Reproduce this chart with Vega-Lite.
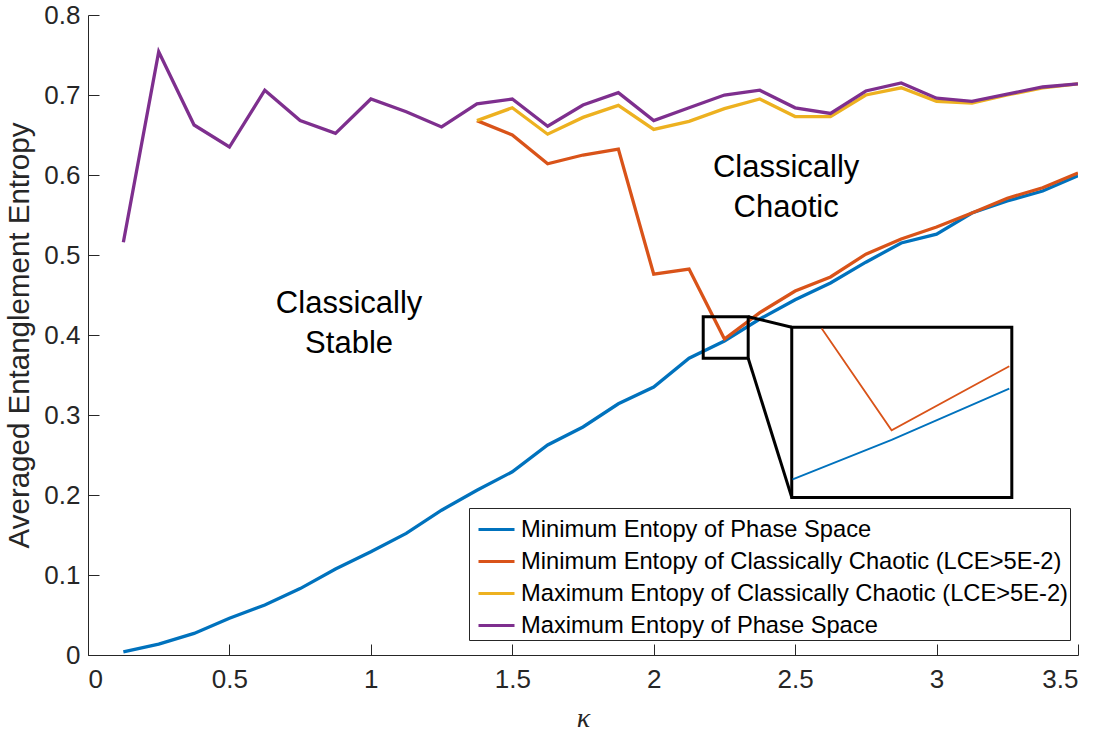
{
  "$schema": "https://vega.github.io/schema/vega-lite/v6.json",
  "width": 990,
  "height": 640,
  "autosize": {"type": "none"},
  "padding": {"left": 88, "top": 15, "right": 30, "bottom": 79},
  "background": "white",
  "config": {
    "font": "Liberation Sans",
    "view": {"stroke": null},
    "axis": {
      "grid": false,
      "domainColor": "#262626",
      "domainWidth": 1,
      "tickColor": "#262626",
      "tickWidth": 1,
      "tickSize": -11,
      "labelColor": "#262626",
      "labelFontSize": 26,
      "labelFont": "Liberation Sans",
      "titleColor": "#262626",
      "titleFont": "Liberation Sans",
      "titleFontWeight": "normal"
    }
  },
  "datasets": {
    "main": [
      {"k": 0.125, "s": "Minimum Entopy of Phase Space", "v": 0.004},
      {"k": 0.25, "s": "Minimum Entopy of Phase Space", "v": 0.0135},
      {"k": 0.375, "s": "Minimum Entopy of Phase Space", "v": 0.027},
      {"k": 0.5, "s": "Minimum Entopy of Phase Space", "v": 0.046},
      {"k": 0.625, "s": "Minimum Entopy of Phase Space", "v": 0.0625},
      {"k": 0.75, "s": "Minimum Entopy of Phase Space", "v": 0.083},
      {"k": 0.875, "s": "Minimum Entopy of Phase Space", "v": 0.1075},
      {"k": 1.0, "s": "Minimum Entopy of Phase Space", "v": 0.129},
      {"k": 1.125, "s": "Minimum Entopy of Phase Space", "v": 0.152},
      {"k": 1.25, "s": "Minimum Entopy of Phase Space", "v": 0.181},
      {"k": 1.375, "s": "Minimum Entopy of Phase Space", "v": 0.206},
      {"k": 1.5, "s": "Minimum Entopy of Phase Space", "v": 0.229},
      {"k": 1.625, "s": "Minimum Entopy of Phase Space", "v": 0.2625},
      {"k": 1.75, "s": "Minimum Entopy of Phase Space", "v": 0.285},
      {"k": 1.875, "s": "Minimum Entopy of Phase Space", "v": 0.314},
      {"k": 2.0, "s": "Minimum Entopy of Phase Space", "v": 0.335},
      {"k": 2.125, "s": "Minimum Entopy of Phase Space", "v": 0.371},
      {"k": 2.25, "s": "Minimum Entopy of Phase Space", "v": 0.3925},
      {"k": 2.375, "s": "Minimum Entopy of Phase Space", "v": 0.42},
      {"k": 2.5, "s": "Minimum Entopy of Phase Space", "v": 0.444},
      {"k": 2.625, "s": "Minimum Entopy of Phase Space", "v": 0.465},
      {"k": 2.75, "s": "Minimum Entopy of Phase Space", "v": 0.491},
      {"k": 2.875, "s": "Minimum Entopy of Phase Space", "v": 0.515},
      {"k": 3.0, "s": "Minimum Entopy of Phase Space", "v": 0.526},
      {"k": 3.125, "s": "Minimum Entopy of Phase Space", "v": 0.5525},
      {"k": 3.25, "s": "Minimum Entopy of Phase Space", "v": 0.5675},
      {"k": 3.375, "s": "Minimum Entopy of Phase Space", "v": 0.58},
      {"k": 3.5, "s": "Minimum Entopy of Phase Space", "v": 0.599},
      {"k": 1.375, "s": "Minimum Entopy of Classically Chaotic (LCE>5E-2)", "v": 0.668},
      {"k": 1.5, "s": "Minimum Entopy of Classically Chaotic (LCE>5E-2)", "v": 0.65},
      {"k": 1.625, "s": "Minimum Entopy of Classically Chaotic (LCE>5E-2)", "v": 0.614},
      {"k": 1.75, "s": "Minimum Entopy of Classically Chaotic (LCE>5E-2)", "v": 0.625},
      {"k": 1.875, "s": "Minimum Entopy of Classically Chaotic (LCE>5E-2)", "v": 0.6325},
      {"k": 2.0, "s": "Minimum Entopy of Classically Chaotic (LCE>5E-2)", "v": 0.476},
      {"k": 2.125, "s": "Minimum Entopy of Classically Chaotic (LCE>5E-2)", "v": 0.4825},
      {"k": 2.25, "s": "Minimum Entopy of Classically Chaotic (LCE>5E-2)", "v": 0.395},
      {"k": 2.375, "s": "Minimum Entopy of Classically Chaotic (LCE>5E-2)", "v": 0.428},
      {"k": 2.5, "s": "Minimum Entopy of Classically Chaotic (LCE>5E-2)", "v": 0.455},
      {"k": 2.625, "s": "Minimum Entopy of Classically Chaotic (LCE>5E-2)", "v": 0.4725},
      {"k": 2.75, "s": "Minimum Entopy of Classically Chaotic (LCE>5E-2)", "v": 0.501},
      {"k": 2.875, "s": "Minimum Entopy of Classically Chaotic (LCE>5E-2)", "v": 0.52},
      {"k": 3.0, "s": "Minimum Entopy of Classically Chaotic (LCE>5E-2)", "v": 0.535},
      {"k": 3.125, "s": "Minimum Entopy of Classically Chaotic (LCE>5E-2)", "v": 0.5525},
      {"k": 3.25, "s": "Minimum Entopy of Classically Chaotic (LCE>5E-2)", "v": 0.571},
      {"k": 3.375, "s": "Minimum Entopy of Classically Chaotic (LCE>5E-2)", "v": 0.584},
      {"k": 3.5, "s": "Minimum Entopy of Classically Chaotic (LCE>5E-2)", "v": 0.6025},
      {"k": 1.375, "s": "Maximum Entopy of Classically Chaotic (LCE>5E-2)", "v": 0.668},
      {"k": 1.5, "s": "Maximum Entopy of Classically Chaotic (LCE>5E-2)", "v": 0.684},
      {"k": 1.625, "s": "Maximum Entopy of Classically Chaotic (LCE>5E-2)", "v": 0.651},
      {"k": 1.75, "s": "Maximum Entopy of Classically Chaotic (LCE>5E-2)", "v": 0.672},
      {"k": 1.875, "s": "Maximum Entopy of Classically Chaotic (LCE>5E-2)", "v": 0.687},
      {"k": 2.0, "s": "Maximum Entopy of Classically Chaotic (LCE>5E-2)", "v": 0.657},
      {"k": 2.125, "s": "Maximum Entopy of Classically Chaotic (LCE>5E-2)", "v": 0.667},
      {"k": 2.25, "s": "Maximum Entopy of Classically Chaotic (LCE>5E-2)", "v": 0.683},
      {"k": 2.375, "s": "Maximum Entopy of Classically Chaotic (LCE>5E-2)", "v": 0.695},
      {"k": 2.5, "s": "Maximum Entopy of Classically Chaotic (LCE>5E-2)", "v": 0.673},
      {"k": 2.625, "s": "Maximum Entopy of Classically Chaotic (LCE>5E-2)", "v": 0.673},
      {"k": 2.75, "s": "Maximum Entopy of Classically Chaotic (LCE>5E-2)", "v": 0.7},
      {"k": 2.875, "s": "Maximum Entopy of Classically Chaotic (LCE>5E-2)", "v": 0.709},
      {"k": 3.0, "s": "Maximum Entopy of Classically Chaotic (LCE>5E-2)", "v": 0.692},
      {"k": 3.125, "s": "Maximum Entopy of Classically Chaotic (LCE>5E-2)", "v": 0.69},
      {"k": 3.25, "s": "Maximum Entopy of Classically Chaotic (LCE>5E-2)", "v": 0.7},
      {"k": 3.375, "s": "Maximum Entopy of Classically Chaotic (LCE>5E-2)", "v": 0.709},
      {"k": 3.5, "s": "Maximum Entopy of Classically Chaotic (LCE>5E-2)", "v": 0.714},
      {"k": 0.125, "s": "Maximum Entopy of Phase Space", "v": 0.516},
      {"k": 0.25, "s": "Maximum Entopy of Phase Space", "v": 0.754},
      {"k": 0.375, "s": "Maximum Entopy of Phase Space", "v": 0.6625},
      {"k": 0.5, "s": "Maximum Entopy of Phase Space", "v": 0.635},
      {"k": 0.625, "s": "Maximum Entopy of Phase Space", "v": 0.706},
      {"k": 0.75, "s": "Maximum Entopy of Phase Space", "v": 0.668},
      {"k": 0.875, "s": "Maximum Entopy of Phase Space", "v": 0.652},
      {"k": 1.0, "s": "Maximum Entopy of Phase Space", "v": 0.695},
      {"k": 1.125, "s": "Maximum Entopy of Phase Space", "v": 0.679},
      {"k": 1.25, "s": "Maximum Entopy of Phase Space", "v": 0.66},
      {"k": 1.375, "s": "Maximum Entopy of Phase Space", "v": 0.689},
      {"k": 1.5, "s": "Maximum Entopy of Phase Space", "v": 0.695},
      {"k": 1.625, "s": "Maximum Entopy of Phase Space", "v": 0.661},
      {"k": 1.75, "s": "Maximum Entopy of Phase Space", "v": 0.6875},
      {"k": 1.875, "s": "Maximum Entopy of Phase Space", "v": 0.703},
      {"k": 2.0, "s": "Maximum Entopy of Phase Space", "v": 0.668},
      {"k": 2.125, "s": "Maximum Entopy of Phase Space", "v": 0.684},
      {"k": 2.25, "s": "Maximum Entopy of Phase Space", "v": 0.7},
      {"k": 2.375, "s": "Maximum Entopy of Phase Space", "v": 0.706},
      {"k": 2.5, "s": "Maximum Entopy of Phase Space", "v": 0.684},
      {"k": 2.625, "s": "Maximum Entopy of Phase Space", "v": 0.677},
      {"k": 2.75, "s": "Maximum Entopy of Phase Space", "v": 0.705},
      {"k": 2.875, "s": "Maximum Entopy of Phase Space", "v": 0.715},
      {"k": 3.0, "s": "Maximum Entopy of Phase Space", "v": 0.696},
      {"k": 3.125, "s": "Maximum Entopy of Phase Space", "v": 0.692},
      {"k": 3.25, "s": "Maximum Entopy of Phase Space", "v": 0.701},
      {"k": 3.375, "s": "Maximum Entopy of Phase Space", "v": 0.71},
      {"k": 3.5, "s": "Maximum Entopy of Phase Space", "v": 0.714}
    ],
    "inset": [
      {"k": 2.491, "s": "Minimum Entopy of Phase Space", "v": 0.2196},
      {"k": 2.841, "s": "Minimum Entopy of Phase Space", "v": 0.269},
      {"k": 3.257, "s": "Minimum Entopy of Phase Space", "v": 0.333},
      {"k": 2.594, "s": "Minimum Entopy of Classically Chaotic (LCE>5E-2)", "v": 0.408},
      {"k": 2.841, "s": "Minimum Entopy of Classically Chaotic (LCE>5E-2)", "v": 0.281},
      {"k": 3.257, "s": "Minimum Entopy of Classically Chaotic (LCE>5E-2)", "v": 0.361}
    ],
    "boxes": [
      {"x1": 2.175, "x2": 2.334, "y1": 0.4229, "y2": 0.3709, "f": "none"},
      {"x1": 2.488, "x2": 3.266, "y1": 0.4096, "y2": 0.197, "f": "white"}
    ],
    "connectors": [
      {"x1": 2.334, "y1": 0.4229, "x2": 2.488, "y2": 0.4096},
      {"x1": 2.334, "y1": 0.3709, "x2": 2.488, "y2": 0.197}
    ],
    "labels": [
      {"k": 0.923, "v": 0.4275, "t": "Classically\nStable"},
      {"k": 2.468, "v": 0.5975, "t": "Classically\nChaotic"}
    ]
  },
  "layer": [
    {
      "data": {"name": "main"},
      "mark": {"type": "line", "strokeWidth": 3.3, "strokeJoin": "miter", "clip": true},
      "encoding": {
        "x": {
          "field": "k", "type": "quantitative",
          "scale": {"domain": [0, 3.5], "nice": false, "zero": false},
          "axis": {
            "values": [0, 0.5, 1, 1.5, 2, 2.5, 3, 3.5],
            "format": "~g",
            "labelPadding": 22,
            "title": "κ",
            "titleFont": "Liberation Serif",
            "titleFontStyle": "italic",
            "titleFontSize": 28,
            "titlePadding": 12
          }
        },
        "y": {
          "field": "v", "type": "quantitative",
          "scale": {"domain": [0, 0.8], "nice": false},
          "axis": {
            "values": [0, 0.1, 0.2, 0.3, 0.4, 0.5, 0.6, 0.7, 0.8],
            "format": "~g",
            "labelPadding": 19,
            "title": "Averaged Entanglement Entropy",
            "titleFontSize": 29.5,
            "titlePadding": 9
          }
        },
        "color": {
          "field": "s", "type": "nominal",
          "scale": {
            "domain": [
              "Minimum Entopy of Phase Space",
              "Minimum Entopy of Classically Chaotic (LCE>5E-2)",
              "Maximum Entopy of Classically Chaotic (LCE>5E-2)",
              "Maximum Entopy of Phase Space"
            ],
            "range": ["#0072BD", "#D95319", "#EDB120", "#7E2F8E"]
          },
          "legend": {
            "orient": "none",
            "legendX": 381,
            "legendY": 493,
            "title": null,
            "symbolType": "stroke",
            "symbolStrokeWidth": 3,
            "symbolSize": 1296,
            "symbolOffset": 6,
            "labelFontSize": 23.7,
            "labelFont": "Liberation Sans",
            "labelColor": "black",
            "labelLimit": 800,
            "labelOffset": 5,
            "strokeColor": "#262626",
            "fillColor": "white",
            "padding": 2,
            "rowPadding": 0
          }
        }
      }
    },
    {
      "data": {"name": "connectors"},
      "mark": {"type": "rule", "color": "black", "strokeWidth": 3},
      "encoding": {
        "x": {"field": "x1", "type": "quantitative"},
        "y": {"field": "y1", "type": "quantitative"},
        "x2": {"field": "x2"},
        "y2": {"field": "y2"}
      }
    },
    {
      "data": {"name": "boxes"},
      "mark": {"type": "rect", "stroke": "black", "strokeWidth": 3},
      "encoding": {
        "x": {"field": "x1", "type": "quantitative"},
        "x2": {"field": "x2"},
        "y": {"field": "y1", "type": "quantitative"},
        "y2": {"field": "y2"},
        "fill": {"field": "f", "type": "nominal", "scale": {"domain": ["none", "white"], "range": ["transparent", "white"]}, "legend": null}
      }
    },
    {
      "data": {"name": "inset"},
      "mark": {"type": "line", "strokeWidth": 1.8},
      "encoding": {
        "x": {"field": "k", "type": "quantitative"},
        "y": {"field": "v", "type": "quantitative"},
        "color": {"field": "s", "type": "nominal"}
      }
    },
    {
      "data": {"name": "labels"},
      "mark": {"type": "text", "fontSize": 31, "lineBreak": "\n", "lineHeight": 40, "align": "center", "baseline": "alphabetic", "color": "black", "font": "Liberation Sans"},
      "encoding": {
        "x": {"field": "k", "type": "quantitative"},
        "y": {"field": "v", "type": "quantitative"},
        "text": {"field": "t"}
      }
    }
  ]
}
